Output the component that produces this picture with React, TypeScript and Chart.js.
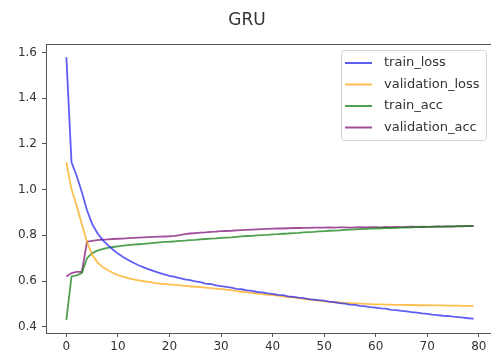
import React, { useEffect, useRef } from "react";
import { Chart, registerables } from "chart.js";

Chart.register(...registerables);

const epochs: number[] = Array.from({ length: 80 }, (_, i) => i);

const trainLoss: number[] = [
  1.58, 1.12, 1.06, 0.99, 0.91, 0.85, 0.81, 0.78, 0.758, 0.738,
  0.72, 0.705, 0.692, 0.68, 0.669, 0.66, 0.651, 0.643, 0.636, 0.629,
  0.623, 0.618, 0.613, 0.607, 0.604, 0.598, 0.595, 0.589, 0.587, 0.581,
  0.578, 0.574, 0.571, 0.566, 0.564, 0.559, 0.557, 0.552, 0.55, 0.546,
  0.544, 0.539, 0.538, 0.533, 0.531, 0.527, 0.525, 0.521, 0.519, 0.516,
  0.514, 0.51, 0.508, 0.503, 0.501, 0.497, 0.496, 0.491, 0.489, 0.486,
  0.484, 0.48, 0.479, 0.474, 0.473, 0.469, 0.467, 0.464, 0.462, 0.458,
  0.456, 0.453, 0.451, 0.448, 0.447, 0.444, 0.442, 0.44, 0.437, 0.435,
];

const validationLoss: number[] = [
  1.12, 1.0, 0.93, 0.85, 0.77, 0.715, 0.683, 0.662, 0.648, 0.636,
  0.626, 0.619, 0.613, 0.607, 0.603, 0.599, 0.596, 0.592, 0.589, 0.587,
  0.585, 0.583, 0.581, 0.579, 0.577, 0.575, 0.573, 0.571, 0.569, 0.567,
  0.565, 0.562, 0.56, 0.556, 0.553, 0.55, 0.548, 0.545, 0.543, 0.54,
  0.538, 0.536, 0.533, 0.53, 0.528, 0.525, 0.522, 0.519, 0.516, 0.514,
  0.511, 0.509, 0.507, 0.506, 0.504, 0.503, 0.502, 0.501, 0.5, 0.499,
  0.498, 0.498, 0.497, 0.497, 0.496, 0.496, 0.495, 0.495, 0.494, 0.494,
  0.494, 0.493, 0.493, 0.493, 0.492, 0.492, 0.492, 0.491, 0.491, 0.49,
];

const trainAcc: number[] = [
  0.43, 0.62, 0.625, 0.635, 0.7, 0.722, 0.733, 0.74, 0.745, 0.749,
  0.752, 0.755, 0.757, 0.759, 0.761, 0.763, 0.765, 0.767, 0.769, 0.771,
  0.772, 0.774, 0.776, 0.777, 0.779, 0.78, 0.782, 0.784, 0.786, 0.787,
  0.789, 0.79, 0.791, 0.793, 0.795, 0.797, 0.798, 0.8, 0.801, 0.802,
  0.804, 0.805, 0.807, 0.808, 0.81, 0.811, 0.813, 0.814, 0.815, 0.817,
  0.818, 0.82, 0.821, 0.822, 0.824, 0.825, 0.826, 0.827, 0.828, 0.829,
  0.83, 0.831, 0.832, 0.832, 0.833, 0.834, 0.834, 0.835, 0.836, 0.836,
  0.837, 0.837, 0.838, 0.838, 0.839, 0.839, 0.84, 0.84, 0.841, 0.841,
];

const validationAcc: number[] = [
  0.62, 0.635, 0.64, 0.64, 0.772, 0.776, 0.779, 0.781, 0.782, 0.784,
  0.785, 0.786, 0.788, 0.789, 0.79, 0.791, 0.792, 0.793, 0.794, 0.795,
  0.796, 0.798, 0.801, 0.805, 0.808, 0.81, 0.812, 0.813, 0.815, 0.816,
  0.818, 0.819, 0.82, 0.822, 0.823, 0.824, 0.825, 0.826, 0.827, 0.828,
  0.829, 0.83, 0.83, 0.831, 0.832, 0.832, 0.833, 0.833, 0.834, 0.834,
  0.834, 0.835, 0.834, 0.835, 0.835, 0.834, 0.835, 0.836, 0.835, 0.836,
  0.836, 0.835, 0.837, 0.836, 0.837, 0.836, 0.837, 0.838, 0.837, 0.838,
  0.837, 0.838, 0.839, 0.838, 0.839, 0.838, 0.84, 0.839, 0.841, 0.84,
];

const xTicks: number[] = [0, 10, 20, 30, 40, 50, 60, 70, 80];
const yTicks: number[] = [0.4, 0.6, 0.8, 1.0, 1.2, 1.4, 1.6];

const seriesNames: string[] = ["train_loss", "validation_loss", "train_acc", "validation_acc"];
const seriesColors: string[] = [
  "rgba(40, 40, 240, 0.75)",
  "rgba(255, 170, 20, 0.75)",
  "rgba(20, 130, 20, 0.75)",
  "rgba(130, 20, 120, 0.75)",
];

const FONT = "'DejaVu Sans', sans-serif";

const frameAndLegend = {
  id: "frameAndLegend",
  afterDatasetsDraw(chart: any) {
    const { ctx, chartArea } = chart;
    ctx.save();
    ctx.strokeStyle = "#555";
    ctx.lineWidth = 1;
    ctx.beginPath();
    ctx.moveTo(chartArea.left, chartArea.top + 0.5);
    ctx.lineTo(chartArea.right + 5, chartArea.top + 0.5);
    ctx.stroke();

    // legend
    const bx = chartArea.right - 153;
    const by = chartArea.top + 6;
    const bw = 145;
    const bh = 90;
    ctx.fillStyle = "rgba(255,255,255,0.85)";
    ctx.strokeStyle = "#d4d4d4";
    ctx.beginPath();
    (ctx as any).roundRect(bx + 0.5, by + 0.5, bw, bh, 3);
    ctx.fill();
    ctx.stroke();
    ctx.font = `13px ${FONT}`;
    ctx.textBaseline = "middle";
    ctx.textAlign = "left";
    chart.data.datasets.forEach((ds: any, i: number) => {
      const y = by + 13 + i * 21.5;
      ctx.strokeStyle = ds.borderColor;
      ctx.lineWidth = 2;
      ctx.beginPath();
      ctx.moveTo(bx + 4, y);
      ctx.lineTo(bx + 31, y);
      ctx.stroke();
      ctx.fillStyle = "#333";
      ctx.fillText(ds.label, bx + 43, y);
    });
    ctx.restore();
  },
};

export default function App() {
  const ref = useRef<HTMLCanvasElement>(null);

  useEffect(() => {
    if (!ref.current) return;
    const allSeries = [trainLoss, validationLoss, trainAcc, validationAcc];
    const chart = new Chart(ref.current, {
      type: "line",
      data: {
        datasets: allSeries.map((vals, i) => ({
          label: seriesNames[i],
          data: epochs.map((e, j) => ({ x: e, y: vals[j] })),
          borderColor: seriesColors[i],
          backgroundColor: seriesColors[i],
          borderWidth: 1.8,
          pointRadius: 0,
          tension: 0,
          fill: false,
        })),
      },
      options: {
        animation: false,
        responsive: false,
        devicePixelRatio: 1,
        layout: { padding: { left: 0, right: 12, top: 0, bottom: 0 } },
        plugins: {
          legend: { display: false },
          tooltip: { enabled: false },
          title: {
            display: true,
            text: "GRU",
            color: "#333",
            font: { family: FONT, size: 17, weight: "normal" },
            padding: { top: 10, bottom: 13.6 },
          },
        },
        scales: {
          x: {
            type: "linear",
            min: -3.95,
            max: 82.95,
            afterBuildTicks: (s: any) => {
              s.ticks = xTicks.map((v) => ({ value: v }));
            },
            afterFit: (s: any) => {
              s.height = 23;
            },
            grid: { drawOnChartArea: false, drawTicks: true, tickLength: 4, color: "#555" },
            border: { display: true, color: "#555", width: 1 },
            ticks: {
              color: "#333",
              padding: 3,
              maxRotation: 0,
              autoSkip: false,
              font: { family: FONT, size: 12 },
              callback: (v: any) => String(v),
            },
          },
          y: {
            type: "linear",
            min: 0.3725,
            max: 1.6375,
            afterBuildTicks: (s: any) => {
              s.ticks = yTicks.map((v) => ({ value: v }));
            },
            afterFit: (s: any) => {
              s.width = 46;
            },
            grid: { drawOnChartArea: false, drawTicks: true, tickLength: 4, color: "#555" },
            border: { display: true, color: "#555", width: 1 },
            ticks: {
              color: "#333",
              padding: 5,
              autoSkip: false,
              font: { family: FONT, size: 12 },
              callback: (v: any) => Number(v).toFixed(1),
            },
          },
        },
      },
      plugins: [frameAndLegend],
    });
    return () => chart.destroy();
  }, []);

  return (
    <div
      style={{
        position: "fixed",
        left: 0,
        top: 0,
        width: 491,
        height: 356,
        overflow: "hidden",
        background: "#fff",
      }}
    >
      <canvas ref={ref} width={506} height={356} style={{ width: 506, height: 356, display: "block" }} />
    </div>
  );
}
